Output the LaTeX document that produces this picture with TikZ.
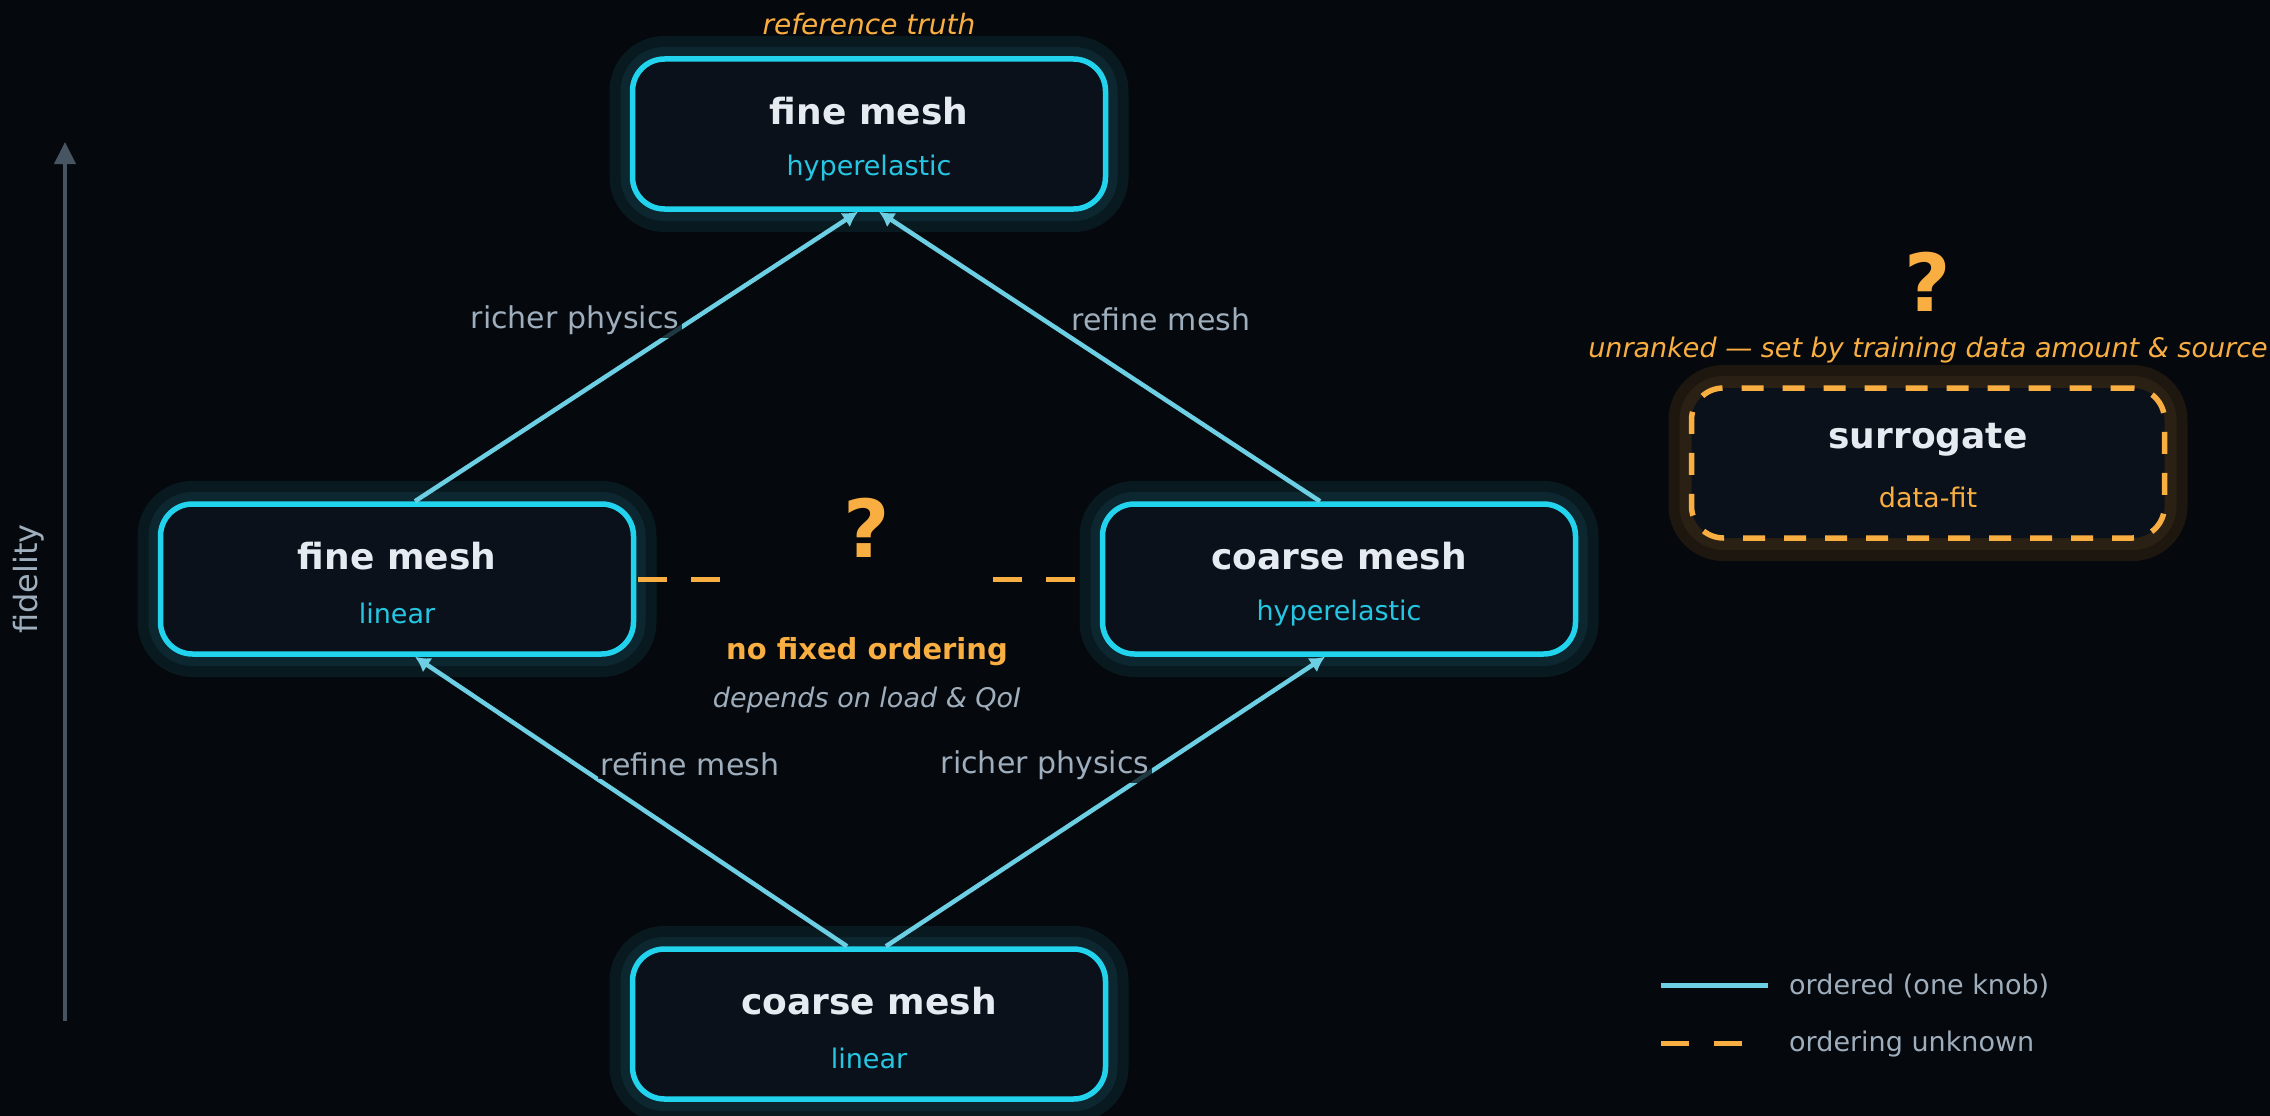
\documentclass[tikz,border=0pt]{standalone}
\usepackage{fontspec}
\setmainfont{DejaVu Sans}
\usetikzlibrary{arrows.meta,calc}
\definecolor{bg}{HTML}{05080D}
\definecolor{boxfill}{HTML}{0A111A}
\definecolor{cyanb}{HTML}{22D3EE}
\definecolor{subc}{HTML}{26C6E2}
\definecolor{titlec}{HTML}{E6EBF2}
\definecolor{orng}{HTML}{F9AE41}
\definecolor{greyc}{HTML}{9FAEBC}
\definecolor{arrc}{HTML}{6CCFE3}
\definecolor{axisc}{HTML}{475563}
\definecolor{glowo}{HTML}{081A20}
\definecolor{glowi}{HTML}{0C2730}
\definecolor{bglowo}{HTML}{1D170F}
\definecolor{bglowi}{HTML}{2A2114}
\newcommand\fsz[1]{\fontsize{#1}{#1}\selectfont}
\tikzset{
  box/.style={rounded corners=32, minimum width=473, minimum height=150,
    fill=boxfill, draw=cyanb, line width=5.5,
    preaction={draw=glowo, line width=46},
    preaction={draw=glowi, line width=24}},
  sbox/.style={rounded corners=32, minimum width=473, minimum height=150,
    fill=boxfill, draw=orng, line width=5.5, dash pattern=on 22pt off 19pt,
    preaction={draw=bglowo, line width=46, solid},
    preaction={draw=bglowi, line width=24, solid}},
  ttl/.style={text=titlec, font=\fsz{36}\bfseries, inner sep=0},
  sub/.style={text=subc, font=\fsz{27}, inner sep=0},
  edge/.style={draw=arrc, line width=4.5, -{Latex[length=15pt,width=17pt]}},
  elab/.style={text=greyc, font=\fsz{30}, fill=bg, fill opacity=0.75, text opacity=1, inner sep=3},
  unk/.style={draw=orng, line width=5, dash pattern=on 29pt off 24pt},
  qmark/.style={text=orng, font=\fsz{80}\bfseries, inner sep=0},
}
\begin{document}
\begin{tikzpicture}[x=1pt,y=-1pt]
\fill[bg] (0,0) rectangle (2270,1116);
\useasboundingbox (0,0) rectangle (2270,1116);

% fidelity axis
\coordinate (axb) at (65,1021);
\coordinate (axt) at (65,142);
\draw[draw=axisc, line width=4, -{Triangle[length=22pt,width=21pt]}] (axb) -- (axt);
\node[rotate=90, text=greyc, font=\fsz{32}, inner sep=0] (fid) at (29,579) {fidelity};

% boxes
\node[box] (top) at (869,134) {};
\node[box] (ml) at (397,579) {};
\node[box] (mr) at (1339,579) {};
\node[box] (bot) at (869,1024) {};
\node[sbox] (sur) at (1928,463) {};

% box texts
\node[ttl] (topT) at (869,111) {fine mesh};
\node[sub] (topS) at (869,168) {hyperelastic};
\node[ttl] (mlT) at (397,556) {fine mesh};
\node[sub] (mlS) at (397,613) {linear};
\node[ttl] (mrT) at (1339,556) {coarse mesh};
\node[sub] (mrS) at (1339,613) {hyperelastic};
\node[ttl] (botT) at (869,1001) {coarse mesh};
\node[sub] (botS) at (869,1058) {linear};
\node[ttl] (surT) at (1928,440) {surrogate};
\node[sub, text=orng] (surS) at (1928,497) {data-fit};

\node[text=orng, font=\fsz{28}\itshape, inner sep=0] (reft) at (869,24) {reference truth};

% ordered edges
\draw[edge] ($(ml.north)+(18,0)$) -- ($(top.south)+(-11,0)$);
\draw[edge] ($(mr.north)+(-19,0)$) -- ($(top.south)+(10,0)$);
\draw[edge] ($(bot.north)+(-22,0)$) -- ($(ml.south)+(18,0)$);
\draw[edge] ($(bot.north)+(17,0)$) -- ($(mr.south)+(-14,0)$);

\node[elab] (l1) at (575,320) {richer physics};
\node[elab] (l2) at (1161,319) {refine mesh};
\node[elab] (l3) at (690,764) {refine mesh};
\node[elab] (l4) at (1045,765) {richer physics};

% unknown ordering
\coordinate (dl) at (724,579);
\coordinate (dr) at (993,579);
\draw[unk] ($(ml.east)+(2,0)$) -- (dl);
\draw[unk] (dr) -- ($(mr.west)+(-20,0)$);
\node[qmark] (q1) at (867,528) {?};
\node[text=orng, font=\fsz{29}\bfseries, inner sep=0] (nfo) at (867,652) {no fixed ordering};
\node[text=greyc, font=\fsz{27}\itshape, inner sep=0] (dep) at (867,700) {depends on load \& QoI};

% surrogate annotation
\node[qmark] (q2) at (1928,282) {?};
\node[text=orng, font=\fsz{27}\itshape, inner sep=0] (unr) at (1928,350) {unranked — set by training data amount \& source};

% legend
\coordinate (lg1a) at (1661,985);
\coordinate (lg1b) at (1768,985);
\coordinate (lg2a) at (1661,1043);
\coordinate (lg2b) at (1745,1043);
\draw[draw=arrc, line width=5] (lg1a) -- (lg1b);
\draw[draw=orng, line width=5, dash pattern=on 28pt off 25pt] (lg2a) -- (lg2b);
\node[anchor=west, text=greyc, font=\fsz{27}, inner sep=0] (lt1) at (1789,986) {ordered (one knob)};
\node[anchor=west, text=greyc, font=\fsz{27}, inner sep=0] (lt2) at (1789,1044) {ordering unknown};
\end{tikzpicture}
\end{document}
